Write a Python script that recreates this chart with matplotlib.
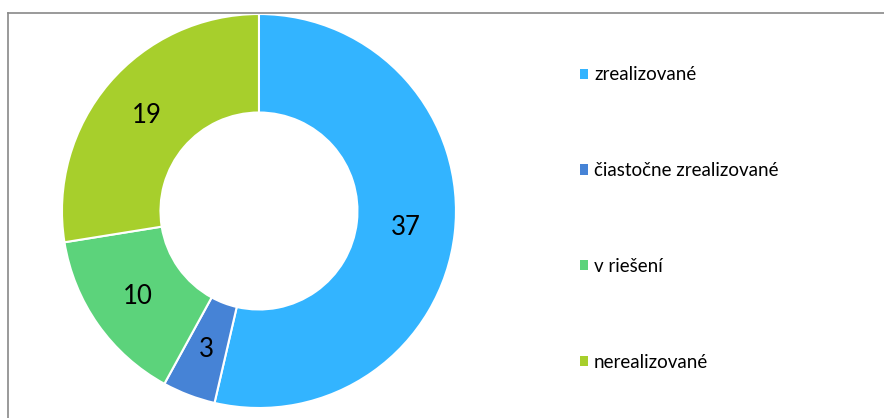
import numpy as np
import matplotlib.pyplot as plt
from matplotlib.lines import Line2D

labels = ["zrealizované", "čiastočne zrealizované", "v riešení", "nerealizované"]
values = [37, 3, 10, 19]
colors = ["#33B4FF", "#4683D6", "#5CD37B", "#A7CF2C"]

plt.rcParams["font.family"] = ["Lato", "DejaVu Sans"]

fig = plt.figure(figsize=(8.84, 4.18), dpi=100)
ax = fig.add_axes([0.0701, 0.0239, 0.4457, 0.9426])

wedges, texts = ax.pie(
    values,
    colors=colors,
    startangle=90,
    counterclock=False,
    radius=1.0,
    wedgeprops=dict(width=0.5, edgecolor="white", linewidth=1.5),
)
for w, v in zip(wedges, values):
    ang = np.deg2rad((w.theta1 + w.theta2) / 2)
    ax.text(0.75 * np.cos(ang), 0.75 * np.sin(ang), str(v),
            ha="center", va="center", fontsize=18.5, color="black")
ax.set_xlim(-1, 1)
ax.set_ylim(-1, 1)
ax.set_aspect("equal")

handles = [plt.Rectangle((0, 0), 1, 1, facecolor=c, edgecolor="none") for c in colors]
fig.legend(handles, labels, loc="upper left", bbox_to_anchor=(0.656, 0.841),
           frameon=False, fontsize=13.5, handlelength=0.45, handleheight=0.45,
           handletextpad=0.3, labelspacing=4.2, borderaxespad=0, borderpad=0)

# border (only top and left visible)
fig.add_artist(Line2D([0.0096, 1], [0.970, 0.970], color="#898989", lw=1.2))
fig.add_artist(Line2D([0.0096, 0.0096], [0, 0.970], color="#898989", lw=1.2))

fig.savefig("out.png", dpi=100)
